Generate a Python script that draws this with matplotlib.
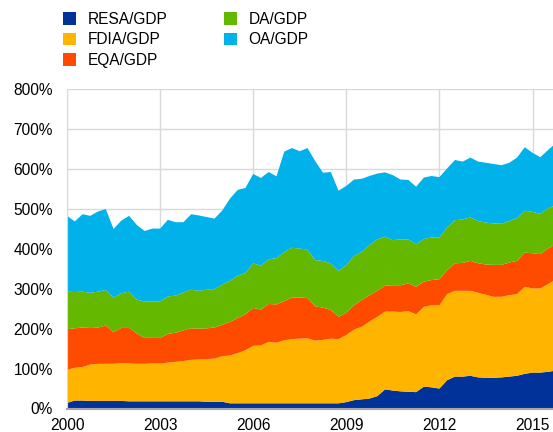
import numpy as np
import matplotlib
matplotlib.use("Agg")
import matplotlib.pyplot as plt
from matplotlib.patches import Patch
from matplotlib.ticker import FuncFormatter

plt.rcParams['font.family'] = ['Liberation Sans', 'DejaVu Sans']

# === Data: quarterly, 2000Q1 - 2015Q4, % of GDP ===
quarters = 2000 + np.arange(64) / 4

resa = [14, 20, 20, 19, 19, 19, 19, 19, 18, 18, 18, 18, 18, 18, 18, 18,
        18, 18, 17, 17, 17, 13, 13, 13, 13, 13, 13, 13, 13, 13, 13, 13,
        13, 13, 13, 13, 16, 21, 23, 25, 31, 48, 45, 43, 42, 41, 55, 53,
        50, 71, 80, 80, 82, 78, 77, 77, 78, 80, 82, 87, 90, 90, 92, 95]
fdia = [83, 82, 84, 91, 93, 93, 93, 95, 95, 94, 94, 95, 95, 97, 99, 101,
        104, 105, 107, 108, 114, 120, 126, 133, 144, 145, 154, 152, 158, 161, 162, 163,
        157, 159, 162, 161, 168, 177, 182, 193, 199, 195, 198, 199, 202, 195, 200, 206,
        209, 216, 215, 215, 213, 212, 208, 203, 202, 204, 205, 218, 211, 211, 220, 229]
eqa = [102, 99, 99, 94, 91, 96, 79, 88, 89, 76, 65, 64, 64, 72, 73, 77,
       79, 77, 77, 78, 79, 84, 88, 90, 95, 90, 95, 96, 98, 104, 103, 101,
       86, 81, 72, 56, 56, 61, 67, 66, 65, 65, 66, 67, 70, 69, 63, 63,
       65, 60, 69, 70, 75, 74, 76, 80, 80, 82, 83, 86, 88, 86, 89, 88]
da = [94, 91, 90, 86, 90, 89, 87, 87, 91, 85, 91, 91, 92, 94, 93, 95,
      97, 95, 97, 96, 101, 103, 106, 104, 112, 110, 112, 116, 123, 125, 123, 121,
      116, 117, 117, 115, 120, 123, 121, 126, 129, 123, 113, 115, 110, 107, 107, 107,
      105, 107, 108, 109, 109, 106, 105, 104, 103, 104, 107, 105, 104, 101, 101, 98]
oa = [190, 177, 194, 193, 201, 203, 172, 182, 190, 187, 177, 183, 182, 192, 184, 176,
      189, 189, 182, 177, 185, 206, 215, 213, 224, 220, 219, 205, 252, 250, 244, 255,
      248, 221, 229, 201, 198, 192, 183, 173, 165, 161, 163, 150, 149, 144, 154, 154,
      151, 148, 151, 145, 150, 149, 150, 149, 147, 146, 152, 159, 148, 142, 146, 155]

labels = ['RESA/GDP', 'FDIA/GDP', 'EQA/GDP', 'DA/GDP', 'OA/GDP']
colors = ['#003299', '#FFB400', '#FF4B00', '#65B800', '#00B1EA']

# === Plot ===
fig = plt.figure(figsize=(5.53, 4.32), dpi=100)
ax = fig.add_axes([67 / 553, (432 - 408.5) / 432, (553 - 67) / 553, (408.5 - 89.4) / 432])

ax.stackplot(quarters, resa, fdia, eqa, da, oa, colors=colors, lw=0)

ax.set_xlim(2000, 2015.66)
ax.set_ylim(0, 800)
ax.set_xticks([2000, 2003, 2006, 2009, 2012, 2015])
ax.set_yticks(range(0, 801, 100))
ax.yaxis.set_major_formatter(FuncFormatter(lambda v, p: f'{v:.0f}%'))
ax.grid(True, color='#d9d9d9', lw=1)
ax.set_axisbelow(True)
ax.tick_params(length=0, labelsize=11.2, colors='black')
ax.tick_params(axis='y', pad=10)
ax.tick_params(axis='x', pad=6.5)
for s in ['top', 'right']:
    ax.spines[s].set_visible(False)
ax.spines['left'].set_color('#d9d9d9')
ax.spines['bottom'].set_color('#a6a6a6')
ax.spines['bottom'].set_linewidth(1.5)

handles = [Patch(facecolor=c, edgecolor='none') for c in colors]
fig.legend(handles, labels, loc='upper left', bbox_to_anchor=(63 / 553, 1 - 12 / 432),
           ncol=2, frameon=False, fontsize=11.2, handlelength=0.85, handleheight=0.85,
           handletextpad=0.75, columnspacing=3.6, labelspacing=0.35,
           borderpad=0, borderaxespad=0)

fig.savefig('out.png', dpi=100)
